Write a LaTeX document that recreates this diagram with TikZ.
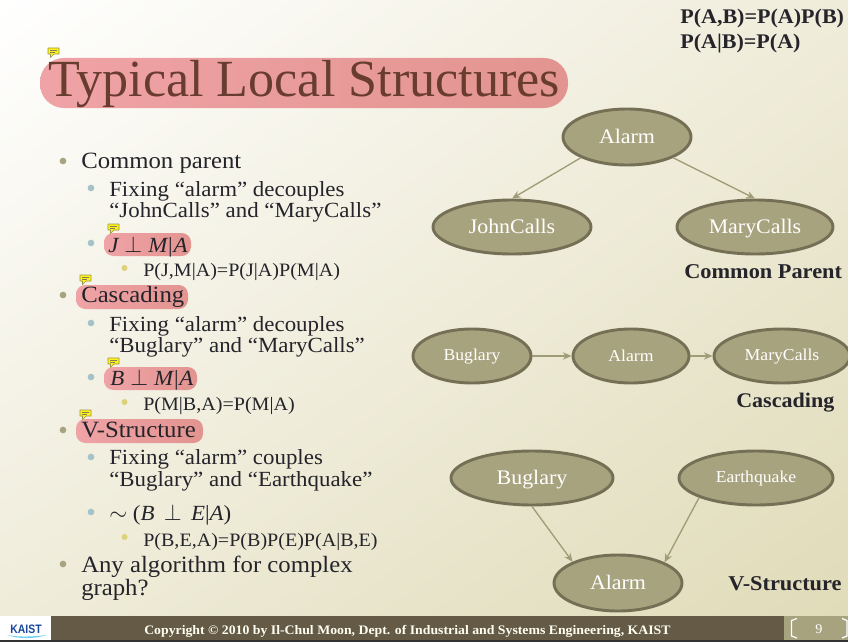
\documentclass[tikz,border=0pt]{standalone}
\usepackage{fontspec}
\setmainfont{Liberation Serif}[FakeStretch=1.06]
\newfontfamily\titlefont{Liberation Serif}
\newfontfamily\logofont{Liberation Sans}[FakeStretch=0.85]
\usetikzlibrary{shapes.geometric,arrows.meta,shadings}
\newcommand\pxfont[1]{\fontsize{#1}{#1}\selectfont}
\definecolor{nodefill}{HTML}{A8A37F}
\definecolor{nodeline}{HTML}{756F55}
\definecolor{edgecol}{HTML}{A09C78}
\definecolor{bodytext}{HTML}{24242A}
\definecolor{barcol}{HTML}{645A45}
\definecolor{bgmid}{HTML}{EFECDA}
\definecolor{bgend}{HTML}{E0DBB8}
\definecolor{hla}{HTML}{F0A3A6}
\definecolor{hlb}{HTML}{E29490}
\definecolor{titlecol}{HTML}{693C30}
\definecolor{logoblue}{HTML}{1946A0}
\definecolor{bultwo}{HTML}{A3C3C8}
\definecolor{bulthree}{HTML}{DCD27E}
\newcommand\hilite[4]{\shade[left color=#1,right color=#2,rounded corners=#3] #4;}
\newcommand\noteicon[1]{%
  \begin{scope}[shift={#1}]
    \draw[fill=yellow!90!white,draw=yellow!55!black,line width=0.45pt,line join=round]
      (0,0) -- (11,0) -- (11,6) -- (6,6) -- (2.5,9.5) -- (2.5,6) -- (0,6) -- cycle;
    \draw[yellow!45!black,line width=0.4pt] (2,2) -- (9,2) (2,4) -- (7,4);
  \end{scope}}
\tikzset{
  x=0.75pt,y=-0.75pt,
  gnode/.style 2 args={ellipse,draw=nodeline,fill=nodefill,line width=2.2pt,inner sep=0pt,text=white,minimum width=#1*0.75pt,minimum height=#2*0.75pt,execute at begin node={\rule[-.15em]{0pt}{.96em}}},
  edge/.style={draw=edgecol,line width=1pt,-{Stealth[length=6.5pt,width=5.5pt]}},
  lone/.style={anchor=base west,inner sep=0pt,text=bodytext,font=\pxfont{17.5}},
  ltwo/.style={anchor=base west,inner sep=0pt,text=bodytext,font=\pxfont{16.2}},
  lthree/.style={anchor=base west,inner sep=0pt,text=bodytext,font=\pxfont{14.2}},
  blab/.style={anchor=base west,inner sep=0pt,text=bodytext,font=\pxfont{15.8}\bfseries},
  bone/.style={circle,fill=nodefill,inner sep=0pt,minimum size=5pt},
  btwo/.style={circle,fill=bultwo,inner sep=0pt,minimum size=5pt},
  bthree/.style={circle,fill=bulthree,inner sep=0pt,minimum size=4.5pt},
}
\begin{document}
\begin{tikzpicture}
\useasboundingbox (0,0) rectangle (848,642);
\shade[upper left=white,upper right=bgmid,lower left=bgmid,lower right=bgend] (0,0) rectangle (848,616);

% highlights
\hilite{hla}{hlb}{18pt}{(40,108) -- (40,58) -- (568,58) -- (568,108) -- cycle}
\hilite{hla}{hlb}{7pt}{(104,233) rectangle (191,256)}
\hilite{hla}{hlb}{7pt}{(76,285) rectangle (188,309)}
\hilite{hla}{hlb}{7pt}{(104,367) rectangle (197,390)}
\hilite{hla}{hlb}{7pt}{(76,419) rectangle (203,443)}

% title
\node (title) [anchor=base west,inner sep=0pt,text=titlecol,font=\titlefont\pxfont{39.1}] at (48,96) {Typical Local Structures};

% bullets
\node[bone] (b1) at (63,161) {};
\node[btwo] (b2) at (91,188) {};
\node[btwo] (b3) at (91,243) {};
\node[bthree] (b4) at (124.5,268) {};
\node[bone] (b5) at (63,295) {};
\node[btwo] (b6) at (91,323) {};
\node[btwo] (b7) at (91,377) {};
\node[bthree] (b8) at (124.5,402) {};
\node[bone] (b9) at (63,430) {};
\node[btwo] (b10) at (91,457) {};
\node[btwo] (b11) at (91,512) {};
\node[bthree] (b12) at (124.5,537) {};
\node[bone] (b13) at (63,564) {};

% body text
\node[lone] (t1) at (81,168) {Common parent};
\node[ltwo] (t2) at (109,196) {Fixing “alarm” decouples};
\node[ltwo] (t3) at (109,217) {“JohnCalls” and “MaryCalls”};
\node[ltwo] (t4) at (108,252) {\itshape J\;$\perp$\;M\kern.6pt\textup{|}\kern.6pt A};
\node[lthree] (t5) at (143,276) {P(J,M|A)=P(J|A)P(M|A)};
\node[lone] (t6) at (81,302) {Cascading};
\node[ltwo] (t7) at (109,331) {Fixing “alarm” decouples};
\node[ltwo] (t8) at (109,352) {“Buglary” and “MaryCalls”};
\node[ltwo] (t9) at (110,385) {\itshape B\;$\perp$\;M\kern.6pt\textup{|}\kern.6pt A};
\node[lthree] (t10) at (143,410) {P(M|B,A)=P(M|A)};
\node[lone] (t11) at (81,437) {V-Structure};
\node[ltwo] (t12) at (109,464) {Fixing “alarm” couples};
\node[ltwo] (t13) at (109,486) {“Buglary” and “Earthquake”};
\node[ltwo] (t14) at (109,520) {$\sim$ (\textit{B} \,$\perp$\, \textit{E}|\textit{A})};
\node[lthree] (t15) at (143,546) {P(B,E,A)=P(B)P(E)P(A|B,E)};
\node[lone] (t16) at (81,572) {Any algorithm for complex};
\node[lone] (t17) at (81,595) {graph?};

% note icons
\noteicon{(48,48)}
\noteicon{(108,224)}
\noteicon{(80,275)}
\noteicon{(108,358)}
\noteicon{(80,410)}

% top-right formula
\node[blab,font=\pxfont{15.6}\bfseries] (f1) at (680,24) {P(A,B)=P(A)P(B)};
\node[blab,font=\pxfont{15.6}\bfseries] (f2) at (680,49) {P(A|B)=P(A)};

% common parent
\node[gnode={128}{56},font=\pxfont{15.5}] (a1) at (627,137) {Alarm};
\node[gnode={158}{54},font=\pxfont{15.5}] (j1) at (512,227) {JohnCalls};
\node[gnode={156}{54},font=\pxfont{15.5}] (m1) at (755,227) {MaryCalls};
\draw[edge] (a1.south west) -- (j1.north);
\draw[edge] (a1.south east) -- (m1.north);
\node[blab] (l1) at (684,278) {Common Parent};

% cascading
\node[gnode={118}{54},font=\pxfont{12.5}] (b21) at (472,356) {Buglary};
\node[gnode={116}{54},font=\pxfont{12.5}] (a2) at (631,356) {Alarm};
\node[gnode={136}{54},font=\pxfont{12.5}] (m2) at (782,356) {MaryCalls};
\draw[edge] (b21) -- (a2);
\draw[edge] (a2) -- (m2);
\node[blab,font=\pxfont{15.6}\bfseries] (l2) at (736,407) {Cascading};

% v-structure
\node[gnode={162}{54},font=\pxfont{15.5}] (b31) at (532,478) {Buglary};
\node[gnode={154}{54},font=\pxfont{12.5}] (e3) at (756,478) {Earthquake};
\node[gnode={128}{56},font=\pxfont{15.5}] (a3) at (618,583) {Alarm};
\draw[edge] (b31.south) -- (a3.155);
\draw[edge] (e3.199) -- (a3.24);
\node[blab] (l3) at (728,590) {V-Structure};

% footer
\fill[white] (0,616) rectangle (51,640);
\fill[barcol] (51,616) rectangle (784,640);
\fill[nodefill] (784,616) rectangle (848,640);
\fill[black!80] (0,640) rectangle (848,642);
\node (kaist) [inner sep=0pt,text=logoblue,font=\logofont\bfseries\pxfont{9.2}] at (26,629) {KAIST};
\fill[cyan!60!white] (7,635) .. controls (20,637.5) and (35,636.5) .. (47,635) .. controls (35,639) and (18,639) .. cycle;
\node (copy) [anchor=base west,inner sep=0pt,text=white!95!yellow,font=\pxfont{9.75}\bfseries] at (144,634.5) {Copyright © 2010 by Il-Chul Moon, Dept. of Industrial and Systems Engineering, KAIST};
\node (pg) [inner sep=0pt,text=white,font=\pxfont{10}] at (819,629) {9};
\draw[white,line width=0.9pt] (797,618.5) -- (791.5,620.5) -- (791.5,636) -- (797,638);
\draw[white,line width=0.9pt] (842,618.5) -- (847,620.5) -- (847,636) -- (842,638);
\end{tikzpicture}
\end{document}
